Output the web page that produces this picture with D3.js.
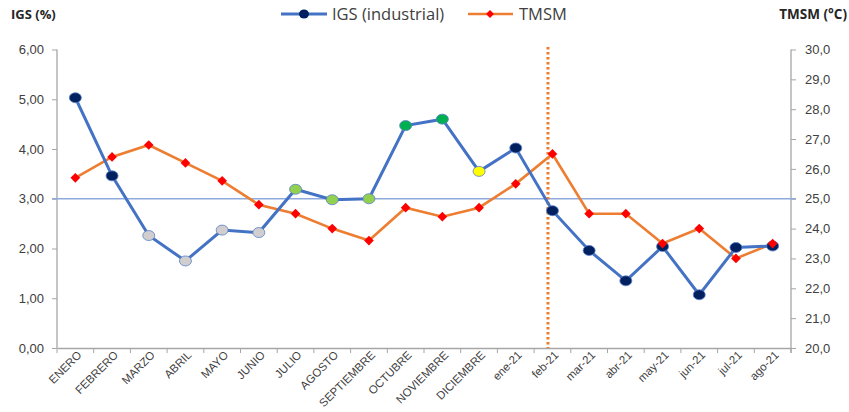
<!DOCTYPE html>
<html>
<head>
<meta charset="utf-8">
<script src="https://cdn.jsdelivr.net/npm/d3@7"></script>
<style>
  html, body { margin: 0; padding: 0; background: #fff; }
  svg { display: block; font-family: "Open Sans", "Noto Sans", sans-serif; }
</style>
</head>
<body>
<svg id="chart" width="849" height="412"></svg>
<script>
// Meses del periodo
const months = ["ENERO","FEBRERO","MARZO","ABRIL","MAYO","JUNIO","JULIO","AGOSTO","SEPTIEMBRE","OCTUBRE","NOVIEMBRE","DICIEMBRE","ene-21","feb-21","mar-21","abr-21","may-21","jun-21","jul-21","ago-21"];
// IGS (industrial), %
const igs = [5.03, 3.46, 2.26, 1.75, 2.37, 2.32, 3.19, 2.98, 3.00, 4.47, 4.60, 3.55, 4.02, 2.76, 1.96, 1.35, 2.04, 1.07, 2.02, 2.05];
// Color de relleno de cada marcador IGS
const igsFill = ["#002060","#002060","#d0cece","#d0cece","#d0cece","#d0cece","#92d050","#92d050","#92d050","#00b050","#00b050","#ffff00","#002060","#002060","#002060","#002060","#002060","#002060","#002060","#002060"];
// TMSM, °C
const tmsm = [25.7, 26.4, 26.8, 26.2, 25.6, 24.8, 24.5, 24.0, 23.6, 24.7, 24.4, 24.7, 25.5, 26.5, 24.5, 24.5, 23.5, 24.0, 23.0, 23.5];
// Ticks de los ejes
const leftTicks = [0, 1, 2, 3, 4, 5, 6];
const rightTicks = [20, 21, 22, 23, 24, 25, 26, 27, 28, 29, 30];
const refValue = 3;          // línea de referencia (3,00 % / 25,0 °C)
const markerMonth = "feb-21"; // línea vertical punteada

const svg = d3.select("#chart");
const mLeft = 57, mRight = 791, mTop = 49.5, mBottom = 348;

const x = d3.scaleBand().domain(months).range([mLeft, mRight]);
const yL = d3.scaleLinear().domain([0, 6]).range([mBottom, mTop]);
const yR = d3.scaleLinear().domain([20, 30]).range([mBottom, mTop]);
const cx = d => x(d) + x.bandwidth() / 2;

const fmt2 = d => d3.format(".2f")(d).replace(".", ",");
const fmt1 = d => d3.format(".1f")(d).replace(".", ",");

// Eje izquierdo
const gL = svg.append("g").attr("transform", `translate(${mLeft},0)`)
  .call(d3.axisLeft(yL).tickValues(leftTicks).tickFormat(fmt2).tickSize(5).tickPadding(8));
// Eje derecho
const gR = svg.append("g").attr("transform", `translate(${mRight},0)`)
  .call(d3.axisRight(yR).tickValues(rightTicks).tickFormat(fmt1).tickSize(5).tickPadding(9));
// Eje X con marcas en los límites de cada categoría
const gX = svg.append("g").attr("transform", `translate(0,${mBottom})`)
  .call(d3.axisBottom(x).tickSize(0).tickPadding(0));
gX.selectAll(".tick line").remove();
gX.selectAll(".tick").append("line")
  .attr("x1", -x.bandwidth() / 2).attr("x2", -x.bandwidth() / 2)
  .attr("y1", 0).attr("y2", 5).attr("stroke", "#a6a6a6");
gX.append("line").attr("x1", mRight).attr("x2", mRight).attr("y1", 0).attr("y2", 5).attr("stroke", "#a6a6a6");
gX.selectAll(".tick text")
  .attr("text-anchor", "end")
  .attr("transform", "translate(4,5) rotate(-45)")
  .attr("dy", "0.35em");

[gL, gR, gX].forEach(g => {
  g.select(".domain").attr("stroke", "#a6a6a6").attr("stroke-width", 1.3);
  g.selectAll(".tick line").attr("stroke", "#a6a6a6");
  g.selectAll(".tick text").attr("fill", "#404040").attr("font-size", 13);
});
gX.selectAll(".tick text").attr("font-size", 11.4);
gL.select(".domain").attr("d", `M-0,${mTop}V${mBottom}`);
gR.select(".domain").attr("d", `M0,${mTop}V${mBottom + 5}`);

// Línea de referencia horizontal
svg.append("line")
  .attr("x1", mLeft - 5).attr("x2", mRight + 5)
  .attr("y1", yL(refValue)).attr("y2", yL(refValue))
  .attr("stroke", "#8faadc").attr("stroke-width", 1.4);

// Línea vertical punteada
const vx = x(markerMonth) + x.bandwidth() / 2 - 4.5;
svg.append("line")
  .attr("x1", vx).attr("x2", vx).attr("y1", 47).attr("y2", mBottom)
  .attr("stroke", "#ed7d31").attr("stroke-width", 3).attr("stroke-dasharray", "2.5,2.5");

// Serie TMSM
svg.append("path")
  .datum(tmsm)
  .attr("fill", "none").attr("stroke", "#ed7d31").attr("stroke-width", 2.6)
  .attr("d", d3.line().x((d, i) => cx(months[i])).y(d => yR(d)));

// Serie IGS
svg.append("path")
  .datum(igs)
  .attr("fill", "none").attr("stroke", "#4472c4").attr("stroke-width", 3)
  .attr("d", d3.line().x((d, i) => cx(months[i])).y(d => yL(d)));

svg.append("g").selectAll("ellipse").data(igs).join("ellipse")
  .attr("cx", (d, i) => cx(months[i])).attr("cy", d => yL(d))
  .attr("rx", 6).attr("ry", 5)
  .attr("fill", (d, i) => igsFill[i])
  .attr("stroke", "#5b7fc9").attr("stroke-width", 0.8);

const diamond = d3.symbol().type(d3.symbolDiamond2).size(60);
svg.append("g").selectAll("path").data(tmsm).join("path")
  .attr("transform", (d, i) => `translate(${cx(months[i])},${yR(d)})`)
  .attr("d", diamond)
  .attr("fill", "#ff0000");

// Títulos de los ejes
svg.append("text").attr("x", 11).attr("y", 19)
  .attr("font-size", 13).attr("font-weight", "bold").attr("fill", "#262626").text("IGS (%)");
svg.append("text").attr("x", 847).attr("y", 19).attr("text-anchor", "end")
  .attr("font-size", 13.5).attr("font-weight", "bold").attr("fill", "#262626").text("TMSM (°C)");

// Leyenda
const legend = svg.append("g").attr("font-size", 16.5).attr("fill", "#404040");
legend.append("line").attr("x1", 281).attr("x2", 327).attr("y1", 14).attr("y2", 14)
  .attr("stroke", "#4472c4").attr("stroke-width", 3);
legend.append("ellipse").attr("cx", 304).attr("cy", 14).attr("rx", 5).attr("ry", 4.5).attr("fill", "#002060");
legend.append("text").attr("x", 332).attr("y", 20).attr("fill", "#404040").text("IGS (industrial)");
legend.append("line").attr("x1", 468).attr("x2", 513).attr("y1", 14).attr("y2", 14)
  .attr("stroke", "#ed7d31").attr("stroke-width", 2.6);
legend.append("path").attr("transform", "translate(490,14)").attr("d", d3.symbol().type(d3.symbolDiamond2).size(40)).attr("fill", "#ff0000");
legend.append("text").attr("x", 519).attr("y", 20).attr("fill", "#404040").text("TMSM");
</script>
</body>
</html>
